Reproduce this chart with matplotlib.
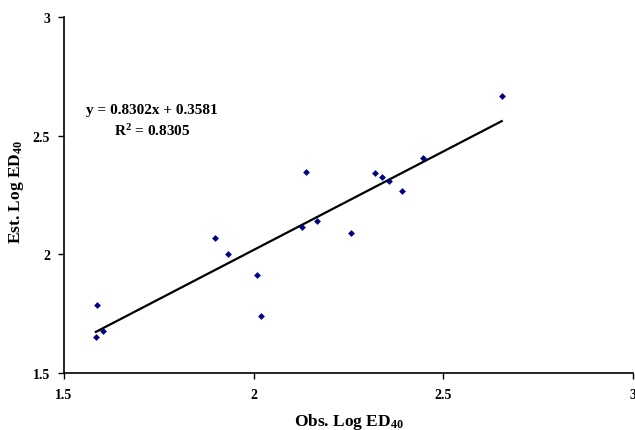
import matplotlib
matplotlib.use('Agg')
import matplotlib.pyplot as plt
import numpy as np

# values
obs = [1.584, 1.588, 1.604, 1.898, 1.931, 2.010, 2.020, 2.128, 2.137, 2.167,
       2.257, 2.320, 2.338, 2.357, 2.392, 2.446, 2.654]
est = [1.650, 1.788, 1.676, 2.070, 2.001, 1.913, 1.741, 2.114, 2.348, 2.139,
       2.089, 2.343, 2.327, 2.308, 2.266, 2.407, 2.669]
slope = 0.8302
intercept = 0.3581
r2 = 0.8305
ticks = [1.5, 2, 2.5, 3]
tick_labels = ['1.5', '2', '2.5', '3']

plt.rcParams['font.family'] = 'Liberation Serif'
plt.rcParams['font.weight'] = 'bold'
plt.rcParams['mathtext.fontset'] = 'custom'
plt.rcParams['mathtext.rm'] = 'Liberation Serif:bold'
plt.rcParams['mathtext.it'] = 'Liberation Serif:bold'
plt.rcParams['mathtext.bf'] = 'Liberation Serif:bold'

fig = plt.figure(figsize=(6.35, 4.31), dpi=100)
ax = fig.add_axes([0.1008, 0.1323, 0.8961, 0.8259])

ax.scatter(obs, est, marker='D', s=12, color='#000080', zorder=3, linewidths=0)
xs = np.array([min(obs), max(obs)])
ax.plot(xs, slope * xs + intercept, color='black', lw=1.6, zorder=2)

ax.set_xlim(1.5, 3)
ax.set_ylim(1.5, 3)
ax.set_xticks(ticks)
ax.set_xticklabels(tick_labels)
ax.set_yticks(ticks)
ax.set_yticklabels(tick_labels)
ax.tick_params(direction='out', length=4, width=1, labelsize=10)
ax.tick_params(axis='x', pad=7)
ax.tick_params(axis='y', pad=6)
ax.spines['top'].set_visible(False)
ax.spines['right'].set_visible(False)
ax.spines['left'].set_linewidth(1.2)
ax.spines['bottom'].set_linewidth(1.2)

ax.set_xlabel(r'Obs. Log ED$_{40}$', fontsize=12.5, fontweight='bold')
ax.set_ylabel(r'Est. Log ED$_{40}$', fontsize=12.5, fontweight='bold')
ax.xaxis.set_label_coords(0.5, -0.108)
ax.yaxis.set_label_coords(-0.067, 0.51)

ax.text(1.732, 2.612, 'y = %.4fx + %.4f' % (slope, intercept), fontsize=11,
        fontweight='bold', ha='center', va='center')
ax.text(1.732, 2.524, r'R$^{2}$ = %.4f' % r2, fontsize=11,
        fontweight='bold', ha='center', va='center')

fig.savefig('out.png', dpi=100)
